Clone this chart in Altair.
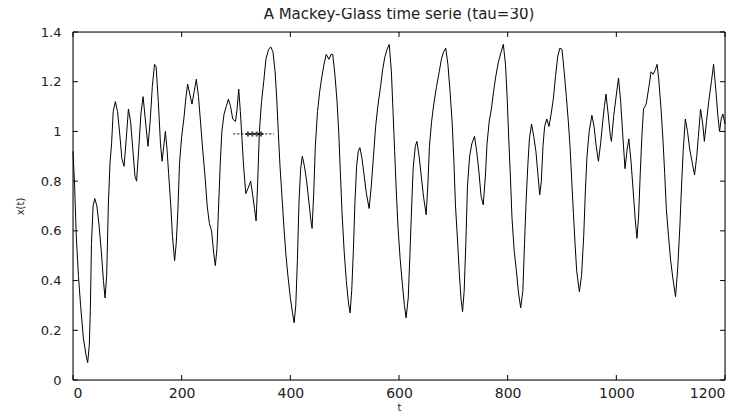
import altair as alt
import pandas as pd

# Mackey-Glass series (t, x(t))
t_vals = [0, 3, 6, 10, 14, 19, 24, 27, 30, 32, 34, 37, 40, 44, 48, 52, 56, 59, 62, 65,
          68, 71, 74, 78, 82, 86, 90, 94, 98, 102, 106, 110, 114, 117, 121, 125, 129, 133, 138, 142,
          146, 150, 153, 157, 161, 164, 167, 170, 173, 176, 180, 183, 187, 190, 193, 196, 200, 204, 208, 211,
          215, 219, 223, 227, 231, 235, 239, 243, 247, 251, 255, 259, 262, 265, 268, 271, 274, 278, 282, 286,
          290, 294, 299, 302, 305, 308, 311, 314, 318, 322, 327, 331, 334, 337, 340, 343, 347, 351, 355, 360,
          364, 368, 372, 375, 378, 381, 384, 388, 392, 396, 400, 404, 407, 410, 413, 416, 419, 422, 426, 430,
          434, 438, 440, 443, 446, 450, 454, 458, 462, 466, 471, 475, 478, 482, 486, 489, 492, 495, 499, 503,
          507, 510, 513, 516, 519, 522, 525, 528, 532, 536, 540, 545, 549, 553, 557, 561, 566, 570, 574, 578,
          582, 586, 589, 592, 595, 598, 602, 606, 610, 613, 617, 620, 623, 626, 630, 633, 637, 641, 645, 650,
          653, 656, 660, 664, 669, 674, 678, 682, 686, 690, 694, 698, 701, 704, 708, 711, 714, 717, 720, 723,
          726, 730, 734, 739, 743, 747, 751, 755, 759, 762, 766, 770, 774, 778, 783, 788, 792, 796, 799, 802,
          805, 808, 812, 816, 820, 824, 828, 831, 834, 837, 840, 844, 848, 852, 856, 859, 862, 865, 868, 872,
          876, 880, 884, 888, 892, 896, 900, 904, 908, 912, 915, 918, 921, 924, 927, 932, 936, 940, 943, 946,
          950, 955, 959, 963, 967, 971, 975, 978, 981, 985, 989, 991, 995, 999, 1004, 1008, 1012, 1016, 1020, 1023,
          1027, 1031, 1035, 1038, 1041, 1044, 1047, 1050, 1055, 1060, 1064, 1068, 1072, 1075, 1078, 1082, 1086, 1089, 1092, 1096,
          1100, 1104, 1109, 1113, 1117, 1120, 1123, 1127, 1131, 1135, 1140, 1144, 1148, 1151, 1155, 1159, 1162, 1166, 1170, 1175,
          1179, 1183, 1187, 1190, 1193, 1196, 1200]
x_vals = [0.92, 0.78, 0.58, 0.42, 0.30, 0.17, 0.10, 0.07, 0.14, 0.29, 0.55, 0.70, 0.73, 0.70, 0.62, 0.52, 0.40, 0.33, 0.42, 0.70,
          0.87, 0.95, 1.08, 1.12, 1.08, 0.99, 0.89, 0.86, 0.97, 1.09, 1.04, 0.93, 0.82, 0.80, 0.93, 1.07, 1.14, 1.05, 0.94, 1.04,
          1.18, 1.27, 1.26, 1.12, 0.95, 0.88, 0.94, 1.00, 0.93, 0.83, 0.70, 0.58, 0.48, 0.55, 0.68, 0.87, 0.98, 1.05, 1.14, 1.19,
          1.15, 1.11, 1.16, 1.21, 1.14, 1.03, 0.92, 0.82, 0.70, 0.63, 0.60, 0.51, 0.46, 0.53, 0.70, 0.87, 1.00, 1.07, 1.10, 1.13,
          1.10, 1.05, 1.04, 1.09, 1.17, 1.08, 0.97, 0.86, 0.75, 0.77, 0.80, 0.74, 0.69, 0.64, 0.80, 1.00, 1.12, 1.20, 1.29, 1.33,
          1.34, 1.32, 1.24, 1.13, 0.99, 0.86, 0.76, 0.62, 0.50, 0.41, 0.33, 0.27, 0.23, 0.30, 0.48, 0.72, 0.85, 0.90, 0.86, 0.80,
          0.72, 0.64, 0.61, 0.75, 0.94, 1.08, 1.16, 1.22, 1.27, 1.31, 1.29, 1.31, 1.31, 1.23, 1.12, 1.00, 0.84, 0.68, 0.52, 0.40,
          0.31, 0.27, 0.36, 0.52, 0.72, 0.86, 0.92, 0.935, 0.89, 0.82, 0.75, 0.69, 0.78, 0.90, 1.02, 1.10, 1.18, 1.25, 1.30, 1.33,
          1.35, 1.24, 1.08, 0.92, 0.76, 0.62, 0.49, 0.39, 0.30, 0.25, 0.33, 0.50, 0.68, 0.85, 0.94, 0.96, 0.90, 0.82, 0.74, 0.665,
          0.78, 0.94, 1.04, 1.11, 1.18, 1.24, 1.29, 1.32, 1.335, 1.27, 1.16, 1.03, 0.88, 0.70, 0.55, 0.43, 0.33, 0.275, 0.36, 0.55,
          0.78, 0.90, 0.95, 0.98, 0.92, 0.84, 0.74, 0.705, 0.82, 0.95, 1.04, 1.09, 1.16, 1.22, 1.28, 1.32, 1.35, 1.27, 1.14, 0.97,
          0.82, 0.65, 0.52, 0.44, 0.35, 0.29, 0.36, 0.55, 0.72, 0.86, 0.97, 1.03, 0.98, 0.92, 0.82, 0.745, 0.80, 0.94, 1.02, 1.05,
          1.02, 1.07, 1.13, 1.22, 1.30, 1.335, 1.33, 1.24, 1.14, 1.03, 0.93, 0.80, 0.67, 0.55, 0.44, 0.355, 0.42, 0.58, 0.76, 0.90,
          1.00, 1.065, 1.02, 0.94, 0.88, 0.95, 1.04, 1.10, 1.15, 1.07, 0.98, 0.96, 1.06, 1.13, 1.215, 1.12, 0.98, 0.85, 0.93, 0.97,
          0.88, 0.76, 0.64, 0.57, 0.66, 0.83, 0.98, 1.09, 1.11, 1.18, 1.24, 1.23, 1.25, 1.27, 1.21, 1.10, 0.96, 0.83, 0.69, 0.58,
          0.48, 0.41, 0.335, 0.45, 0.62, 0.78, 0.92, 1.05, 1.00, 0.93, 0.87, 0.825, 0.90, 0.98, 1.09, 1.03, 0.96, 1.04, 1.12, 1.20,
          1.27, 1.17, 1.06, 1.00, 1.05, 1.07, 1.03]

x_ticks = [0, 200, 400, 600, 800, 1000, 1200]
y_ticks = [0, 0.2, 0.4, 0.6, 0.8, 1.0, 1.2, 1.4]

# small dotted marker artefact near x(t)=1 in the original figure
mark_t = [295, 370]
mark_x = [0.99, 0.99]
plus_t = [322, 330, 338, 346]
plus_x = [0.99, 0.99, 0.99, 0.99]

W, H = 652, 348
FONT = "DejaVu Sans"
TXT = "#222222"
TL = 5

xs = alt.Scale(domain=[0, 1200], nice=False, zero=False)
ys = alt.Scale(domain=[0, 1.4], nice=False)

x_axis = alt.Axis(values=x_ticks, ticks=False, domain=False, grid=False, format="d",
                  labelFont=FONT, labelFontSize=14, labelColor=TXT, labelPadding=6,
                  titleFont=FONT, titleFontSize=10, titleFontWeight="normal",
                  titleColor=TXT, titlePadding=2)
y_axis = alt.Axis(values=y_ticks, ticks=False, domain=False, grid=False, format="~g",
                  labelFont=FONT, labelFontSize=13, labelColor=TXT, labelPadding=12,
                  titleFont=FONT, titleFontSize=10, titleFontWeight="normal",
                  titleColor=TXT, titlePadding=15)

X = alt.X("t:Q", scale=xs, title="t", axis=x_axis)
Y = alt.Y("x:Q", scale=ys, title="x(t)", axis=y_axis)

df = pd.DataFrame({"t": t_vals, "x": x_vals})
line = alt.Chart(df).mark_line(color="black", strokeWidth=1).encode(x=X, y=Y)

dm = pd.DataFrame({"t": mark_t, "x": mark_x})
dotted = alt.Chart(dm).mark_line(color="black", strokeWidth=1, strokeDash=[2, 2]).encode(x=X, y=Y)
dp = pd.DataFrame({"t": plus_t, "x": plus_x})
plus = alt.Chart(dp).mark_point(shape="cross", color="black", size=25, filled=True).encode(x=X, y=Y)

# inward tick marks on all four sides: short lines from the edge inwards
xt = pd.DataFrame({"t": x_ticks + x_ticks,
                   "x": [0.0] * len(x_ticks) + [1.4] * len(x_ticks),
                   "x2": [0.02] * len(x_ticks) + [1.38] * len(x_ticks)})
yt = pd.DataFrame({"x": y_ticks + y_ticks,
                   "t": [0.0] * len(y_ticks) + [1200.0] * len(y_ticks),
                   "t2": [9.0] * len(y_ticks) + [1191.0] * len(y_ticks)})
xtick_layer = alt.Chart(xt).mark_rule(color="black", strokeWidth=1).encode(
    x=X, y=Y, y2="x2:Q")
ytick_layer = alt.Chart(yt).mark_rule(color="black", strokeWidth=1).encode(
    y=Y, x=X, x2="t2:Q")

# box around the plot area (corners in data units)
bx = pd.DataFrame({"t": [0, 1200, 1200, 0, 0], "x": [0, 0, 1.4, 1.4, 0], "o": [0, 1, 2, 3, 4]})
frame = alt.Chart(bx).mark_line(color="black", strokeWidth=1).encode(x=X, y=Y, order="o:O")

chart = alt.layer(line, dotted, plus, xtick_layer, ytick_layer, frame).properties(
    width=W, height=H,
    background="white",
    title=alt.TitleParams("A Mackey-Glass time serie (tau=30)", font=FONT, fontSize=15,
                          fontWeight="normal", color=TXT, anchor="middle", offset=4),
    autosize=alt.AutoSizeParams(type="none"),
    padding={"left": 65, "top": 24, "right": 10, "bottom": 36},
)

chart.save("out.html", embed_options={"renderer": "svg", "actions": False})
